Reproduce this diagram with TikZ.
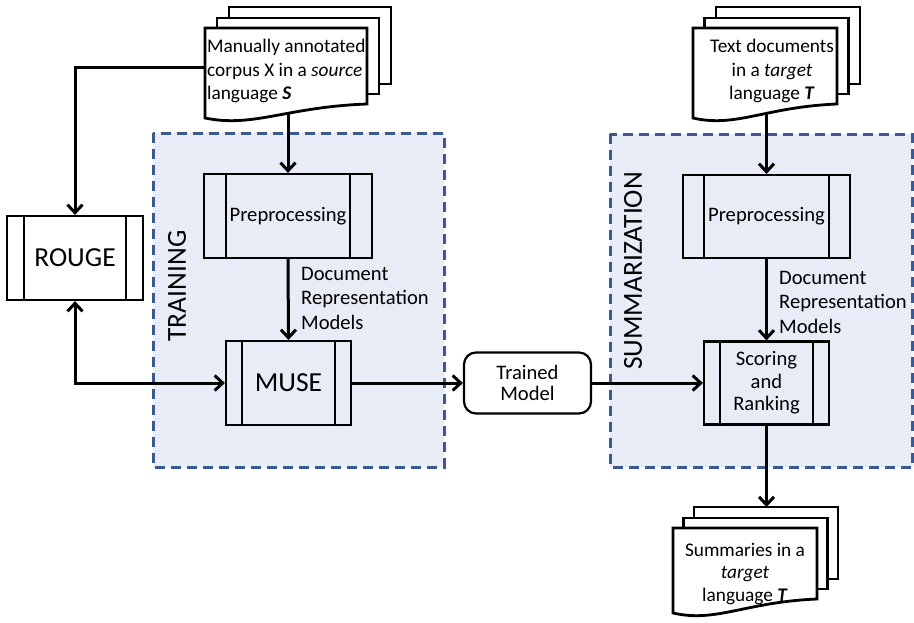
\documentclass[tikz,border=0pt]{standalone}
\usepackage{fontspec}
\setmainfont{Carlito}
\usetikzlibrary{arrows.meta,calc}
\definecolor{zonefill}{RGB}{232,236,246}
\definecolor{zoneline}{RGB}{59,89,142}
\tikzset{
  txt/.style={font=\fontsize{20.6}{24.5}\selectfont},
  doctxt/.style={font=\fontsize{19.3}{23.5}\selectfont},
  bigtxt/.style={font=\fontsize{27.5}{32}\selectfont},
  arr/.style={line width=3pt, -{Straight Barb[length=8pt,width=15pt]}},
  biarr/.style={line width=3pt, {Straight Barb[length=8pt,width=15pt]}-{Straight Barb[length=8pt,width=15pt]}},
  zone/.style={fill=zonefill, draw=zoneline, line width=3pt, dash pattern=on 10pt off 6pt},
  docline/.style={draw=black, fill=white, line width=2.8pt, line join=miter},
  proc/.style args={#1/#2/#3}{draw, line width=2.2pt, minimum width=#1, minimum height=#2,
    inner sep=0pt, align=center,
    path picture={
      \draw[line width=2.2pt] ([xshift=#3]path picture bounding box.north west) -- ([xshift=#3]path picture bounding box.south west);
      \draw[line width=2.2pt] ([xshift=-#3]path picture bounding box.north east) -- ([xshift=-#3]path picture bounding box.south east);
    }},
}
\newcommand{\multidoc}[5]{% L, T, R, B, dx
  \filldraw[docline] ({#1+2*#5},{#2-21}) rectangle ({#3+2*#5},{#4-34});
  \filldraw[docline] ({#1+#5},{#2-10}) rectangle ({#3+#5},{#4-24});
  \filldraw[docline] (#1,#2) -- (#3,#2) -- (#3,{#4-14})
    .. controls ({#1+0.5*(#3-#1)},{#4-11}) and ({#1+0.3*(#3-#1)},{#4+10}) .. (#1,#4) -- cycle;
}
\begin{document}
\begin{tikzpicture}[x=1pt,y=-1pt]
\useasboundingbox (0,0) rectangle (914,622);

% zones
\draw[zone] (153,133) rectangle (444,467);
\draw[zone] (610,134) rectangle (912.5,467);
\node[bigtxt, rotate=90, inner sep=0pt] (trlab) at (177,286) {TRAINING};
\node[bigtxt, rotate=90, inner sep=0pt] (sumlab) at (633,271) {SUMMARIZATION};

% documents
\multidoc{205}{28}{367}{118}{12}
\node[doctxt, anchor=west, align=left, inner sep=0pt] (doc1) at (207,71)
  {Manually annotated\\corpus X in a \textit{source}\\language \textbf{\textit{S}}};
\coordinate (doc1bot) at (288,113);
\coordinate (doc1w) at (205,67);

\multidoc{693}{28}{837}{118}{11.5}
\node[doctxt, align=center, inner sep=0pt] (doc2) at (772,71)
  {Text documents\\in a \textit{target}\\language \textbf{\textit{T}}};
\coordinate (doc2bot) at (766.5,113);

\multidoc{673}{528}{817}{613}{10.5}
\node[doctxt, align=center, inner sep=0pt, font=\fontsize{19.3}{22.5}\selectfont] (doc3) at (745,574)
  {Summaries in a\\\textit{target}\\language \textbf{\textit{T}}};
\coordinate (doc3top) at (766.5,507);

% process boxes
\node[proc={168pt/84pt/22pt}, txt] (pre1) at (288,216) {Preprocessing};
\node[proc={125pt/84pt/16pt}, bigtxt] (muse) at (288.5,383) {MUSE};
\node[proc={136pt/84pt/17pt}, bigtxt, fill=white] (rouge) at (75,258) {ROUGE};
\node[proc={167pt/83pt/21pt}, txt] (pre2) at (766.5,216.5) {Preprocessing};
\node[proc={125pt/83pt/16pt}, txt, font=\fontsize{20.6}{22.5}\selectfont] (score) at (766.5,383) {Scoring\\and\\Ranking};
\node[draw, rounded corners=12pt, fill=white, line width=2.2pt, minimum width=127pt,
  minimum height=61pt, align=center, inner sep=0pt, font=\fontsize{20.6}{20.5}\selectfont] (tm) at (527.5,383) {Trained\\Model};

% labels
\node[txt, anchor=west, align=left, inner sep=0pt] (drm1) at (301,298) {Document\\Representation\\Models};
\node[txt, anchor=west, align=left, inner sep=0pt] (drm2) at (779,302) {Document\\Representation\\Models};

% connectors
\draw[arr] (doc1bot) -- (pre1.north);
\draw[arr] (doc1w) -| (rouge.north);
\draw[biarr] (rouge.south) |- (muse.west);
\draw[arr] (pre1.south) -- (muse.north);
\draw[arr] (muse.east) -- (tm.west);
\draw[arr] (tm.east) -- (score.west);
\draw[arr] (doc2bot) -- (pre2.north);
\draw[arr] (pre2.south) -- (score.north);
\draw[arr] (score.south) -- (doc3top);
\end{tikzpicture}
\end{document}
